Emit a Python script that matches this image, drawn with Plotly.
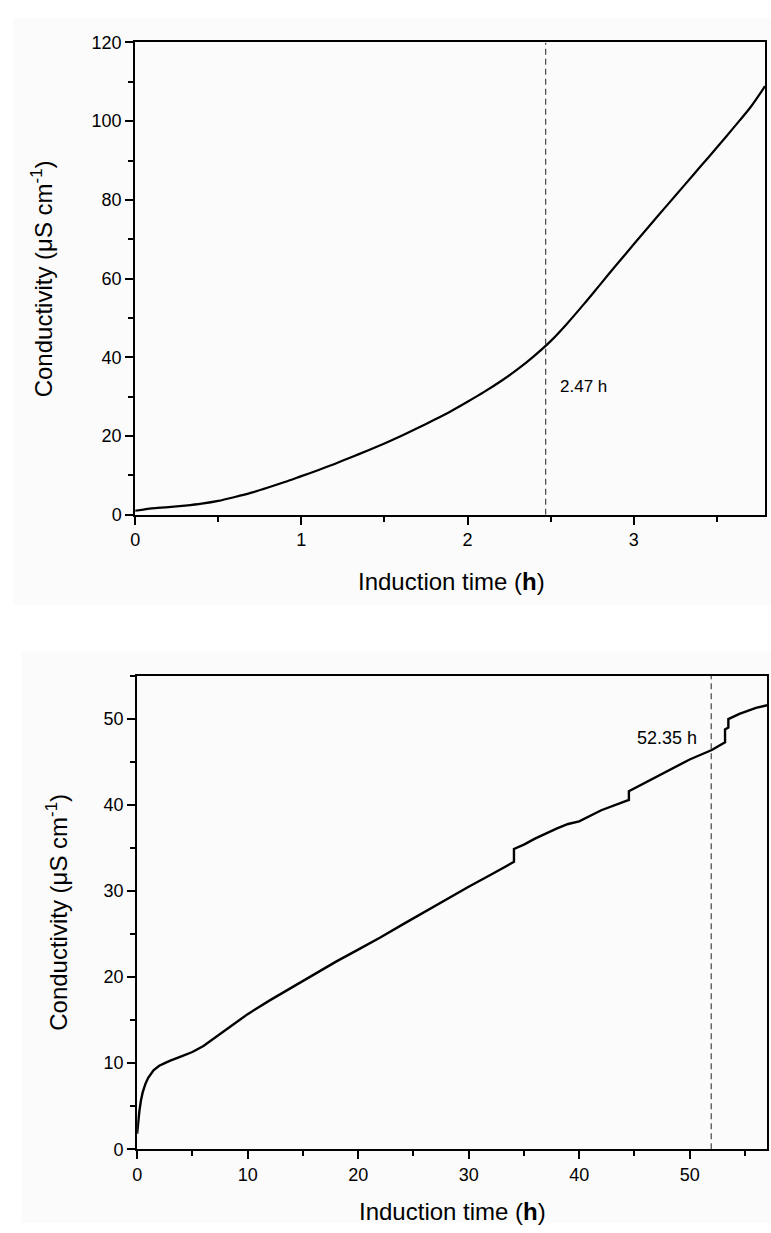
import plotly.graph_objects as go

W, H = 771, 1233

# ---------------- data: top panel ----------------
top_time = [0.0, 0.05, 0.1, 0.2, 0.3, 0.4, 0.5, 0.6, 0.7, 0.8, 0.9, 1.0, 1.1, 1.2, 1.3, 1.4,
            1.5, 1.6, 1.7, 1.8, 1.9, 2.0, 2.1, 2.2, 2.3, 2.4, 2.5, 2.6, 2.7, 2.8,
            2.9, 3.0, 3.1, 3.2, 3.3, 3.4, 3.5, 3.6, 3.7, 3.79]
top_cond = [1.0, 1.3, 1.6, 1.9, 2.3, 2.8, 3.5, 4.5, 5.6, 6.9, 8.3, 9.8, 11.3, 12.9, 14.6, 16.3,
            18.1, 20.0, 22.0, 24.1, 26.3, 28.7, 31.2, 33.9, 36.9, 40.3, 44.1, 48.6, 53.5, 58.6,
            63.7, 68.7, 73.7, 78.6, 83.5, 88.4, 93.3, 98.3, 103.4, 108.9]
top_induction = 2.47
top_label = "2.47 h"

# ---------------- data: bottom panel ----------------
bot_time = [0.0, 0.1, 0.2, 0.35, 0.5, 0.75, 1.0, 1.5, 2.0, 2.5, 3.0, 4.0, 5.0, 6.0, 7.0, 8.0,
            10.0, 12.0, 14.0, 16.0, 18.0, 20.0, 22.0, 24.0, 26.0, 28.0, 30.0, 32.0, 34.1, 34.1,
            35.0, 36.0, 38.0, 39.0, 40.0, 42.0, 44.5, 44.5, 46.0, 48.0, 50.0, 52.0, 53.2, 53.2,
            53.5, 53.5, 54.5, 56.0, 57.0]
bot_cond = [1.8, 3.2, 4.4, 5.7, 6.6, 7.6, 8.3, 9.2, 9.7, 10.0, 10.3, 10.8, 11.3, 12.0, 12.9, 13.9,
            15.7, 17.3, 18.8, 20.3, 21.8, 23.2, 24.6, 26.1, 27.6, 29.0, 30.5, 31.9, 33.4, 34.9,
            35.4, 36.1, 37.3, 37.8, 38.1, 39.4, 40.6, 41.6, 42.6, 44.0, 45.3, 46.4, 47.3, 48.8,
            49.0, 50.0, 50.6, 51.3, 51.6]
bot_induction = 51.95
bot_label = "52.35 h"

FONT = "Arial, 'Liberation Sans', sans-serif"

# plot-area pixel boxes (left, right, top, bottom)
TOP_BOX = (131, 765, 33, 513)
BOT_BOX = (133, 767, 677, 1158)


def px(x):
    return x / W


def py(y):
    return 1 - y / H


fig = go.Figure()

fig.add_trace(go.Scatter(x=top_time, y=top_cond, mode="lines",
                         line=dict(color="black", width=2.2, shape="spline", smoothing=0.8),
                         xaxis="x", yaxis="y", showlegend=False))
fig.add_trace(go.Scatter(x=[top_induction, top_induction], y=[0, 120], mode="lines",
                         line=dict(color="#444444", width=1.2, dash="6px,4px"),
                         xaxis="x", yaxis="y", showlegend=False))
fig.add_trace(go.Scatter(x=bot_time, y=bot_cond, mode="lines",
                         line=dict(color="black", width=2.4), xaxis="x2", yaxis="y2",
                         showlegend=False))
fig.add_trace(go.Scatter(x=[bot_induction, bot_induction], y=[0, 55], mode="lines",
                         line=dict(color="#444444", width=1.2, dash="6px,4px"),
                         xaxis="x2", yaxis="y2", showlegend=False))

axis_common = dict(
    showline=True, linecolor="black", linewidth=1.8, mirror=True,
    ticks="outside", ticklen=8, tickwidth=1.8, tickcolor="black",
    showgrid=False, zeroline=False,
    tickfont=dict(family=FONT, size=18, color="black"),
)

fig.update_layout(
    width=W, height=H,
    margin=dict(l=0, r=0, t=0, b=0),
    paper_bgcolor="white",
    plot_bgcolor="rgba(0,0,0,0)",
    font=dict(family=FONT, color="black"),
    xaxis=dict(domain=[px(TOP_BOX[0]), px(TOP_BOX[1])], range=[0, 3.79], anchor="y",
               dtick=1, tick0=0,
               minor=dict(dtick=0.5, ticks="outside", ticklen=5, tickwidth=1.8, tickcolor="black"),
               **axis_common),
    yaxis=dict(domain=[py(TOP_BOX[3]), py(TOP_BOX[2])], range=[0, 120], anchor="x",
               dtick=20, tick0=0,
               minor=dict(dtick=10, ticks="outside", ticklen=5, tickwidth=1.8, tickcolor="black"),
               **axis_common),
    xaxis2=dict(domain=[px(BOT_BOX[0]), px(BOT_BOX[1])], range=[0, 57], anchor="y2",
                dtick=10, tick0=0,
                minor=dict(dtick=5, ticks="outside", ticklen=5, tickwidth=1.8, tickcolor="black"),
                **axis_common),
    yaxis2=dict(domain=[py(BOT_BOX[3]), py(BOT_BOX[2])], range=[0, 55], anchor="x2",
                dtick=10, tick0=0,
                minor=dict(dtick=5, ticks="outside", ticklen=5, tickwidth=1.8, tickcolor="black"),
                **axis_common),
)

# faint panel backgrounds
fig.add_shape(type="rect", xref="paper", yref="paper", x0=px(8), x1=1, y0=py(605), y1=py(8),
              fillcolor="#fbfbfb", line=dict(width=0), layer="below")
fig.add_shape(type="rect", xref="paper", yref="paper", x0=px(17), x1=1, y0=0, y1=py(652),
              fillcolor="#fbfbfb", line=dict(width=0), layer="below")

title_font = dict(family=FONT, size=24, color="black")
ytitle = "Conductivity (μS cm<sup>-1</sup>)"
xtitle = "Induction time (<b>h</b>)"

fig.add_annotation(xref="paper", yref="paper", x=px(449), y=py(581), text=xtitle,
                   showarrow=False, font=title_font, xanchor="center", yanchor="middle")
fig.add_annotation(xref="paper", yref="paper", x=px(450), y=py(1221), text=xtitle,
                   showarrow=False, font=title_font, xanchor="center", yanchor="middle")
fig.add_annotation(xref="paper", yref="paper", x=px(37), y=py(273), text=ytitle,
                   showarrow=False, font=title_font, textangle=-90,
                   xanchor="center", yanchor="middle")
fig.add_annotation(xref="paper", yref="paper", x=px(52), y=py(917), text=ytitle,
                   showarrow=False, font=title_font, textangle=-90,
                   xanchor="center", yanchor="middle")

# induction time labels
fig.add_annotation(xref="x", yref="y", x=top_induction, y=32.7, text=top_label,
                   showarrow=False, xanchor="left", xshift=12,
                   font=dict(family=FONT, size=17, color="black"))
fig.add_annotation(xref="x2", yref="y2", x=bot_induction, y=47.8, text=bot_label,
                   showarrow=False, xanchor="right", xshift=-12,
                   font=dict(family=FONT, size=18, color="black"))

fig.write_html("out.html")
